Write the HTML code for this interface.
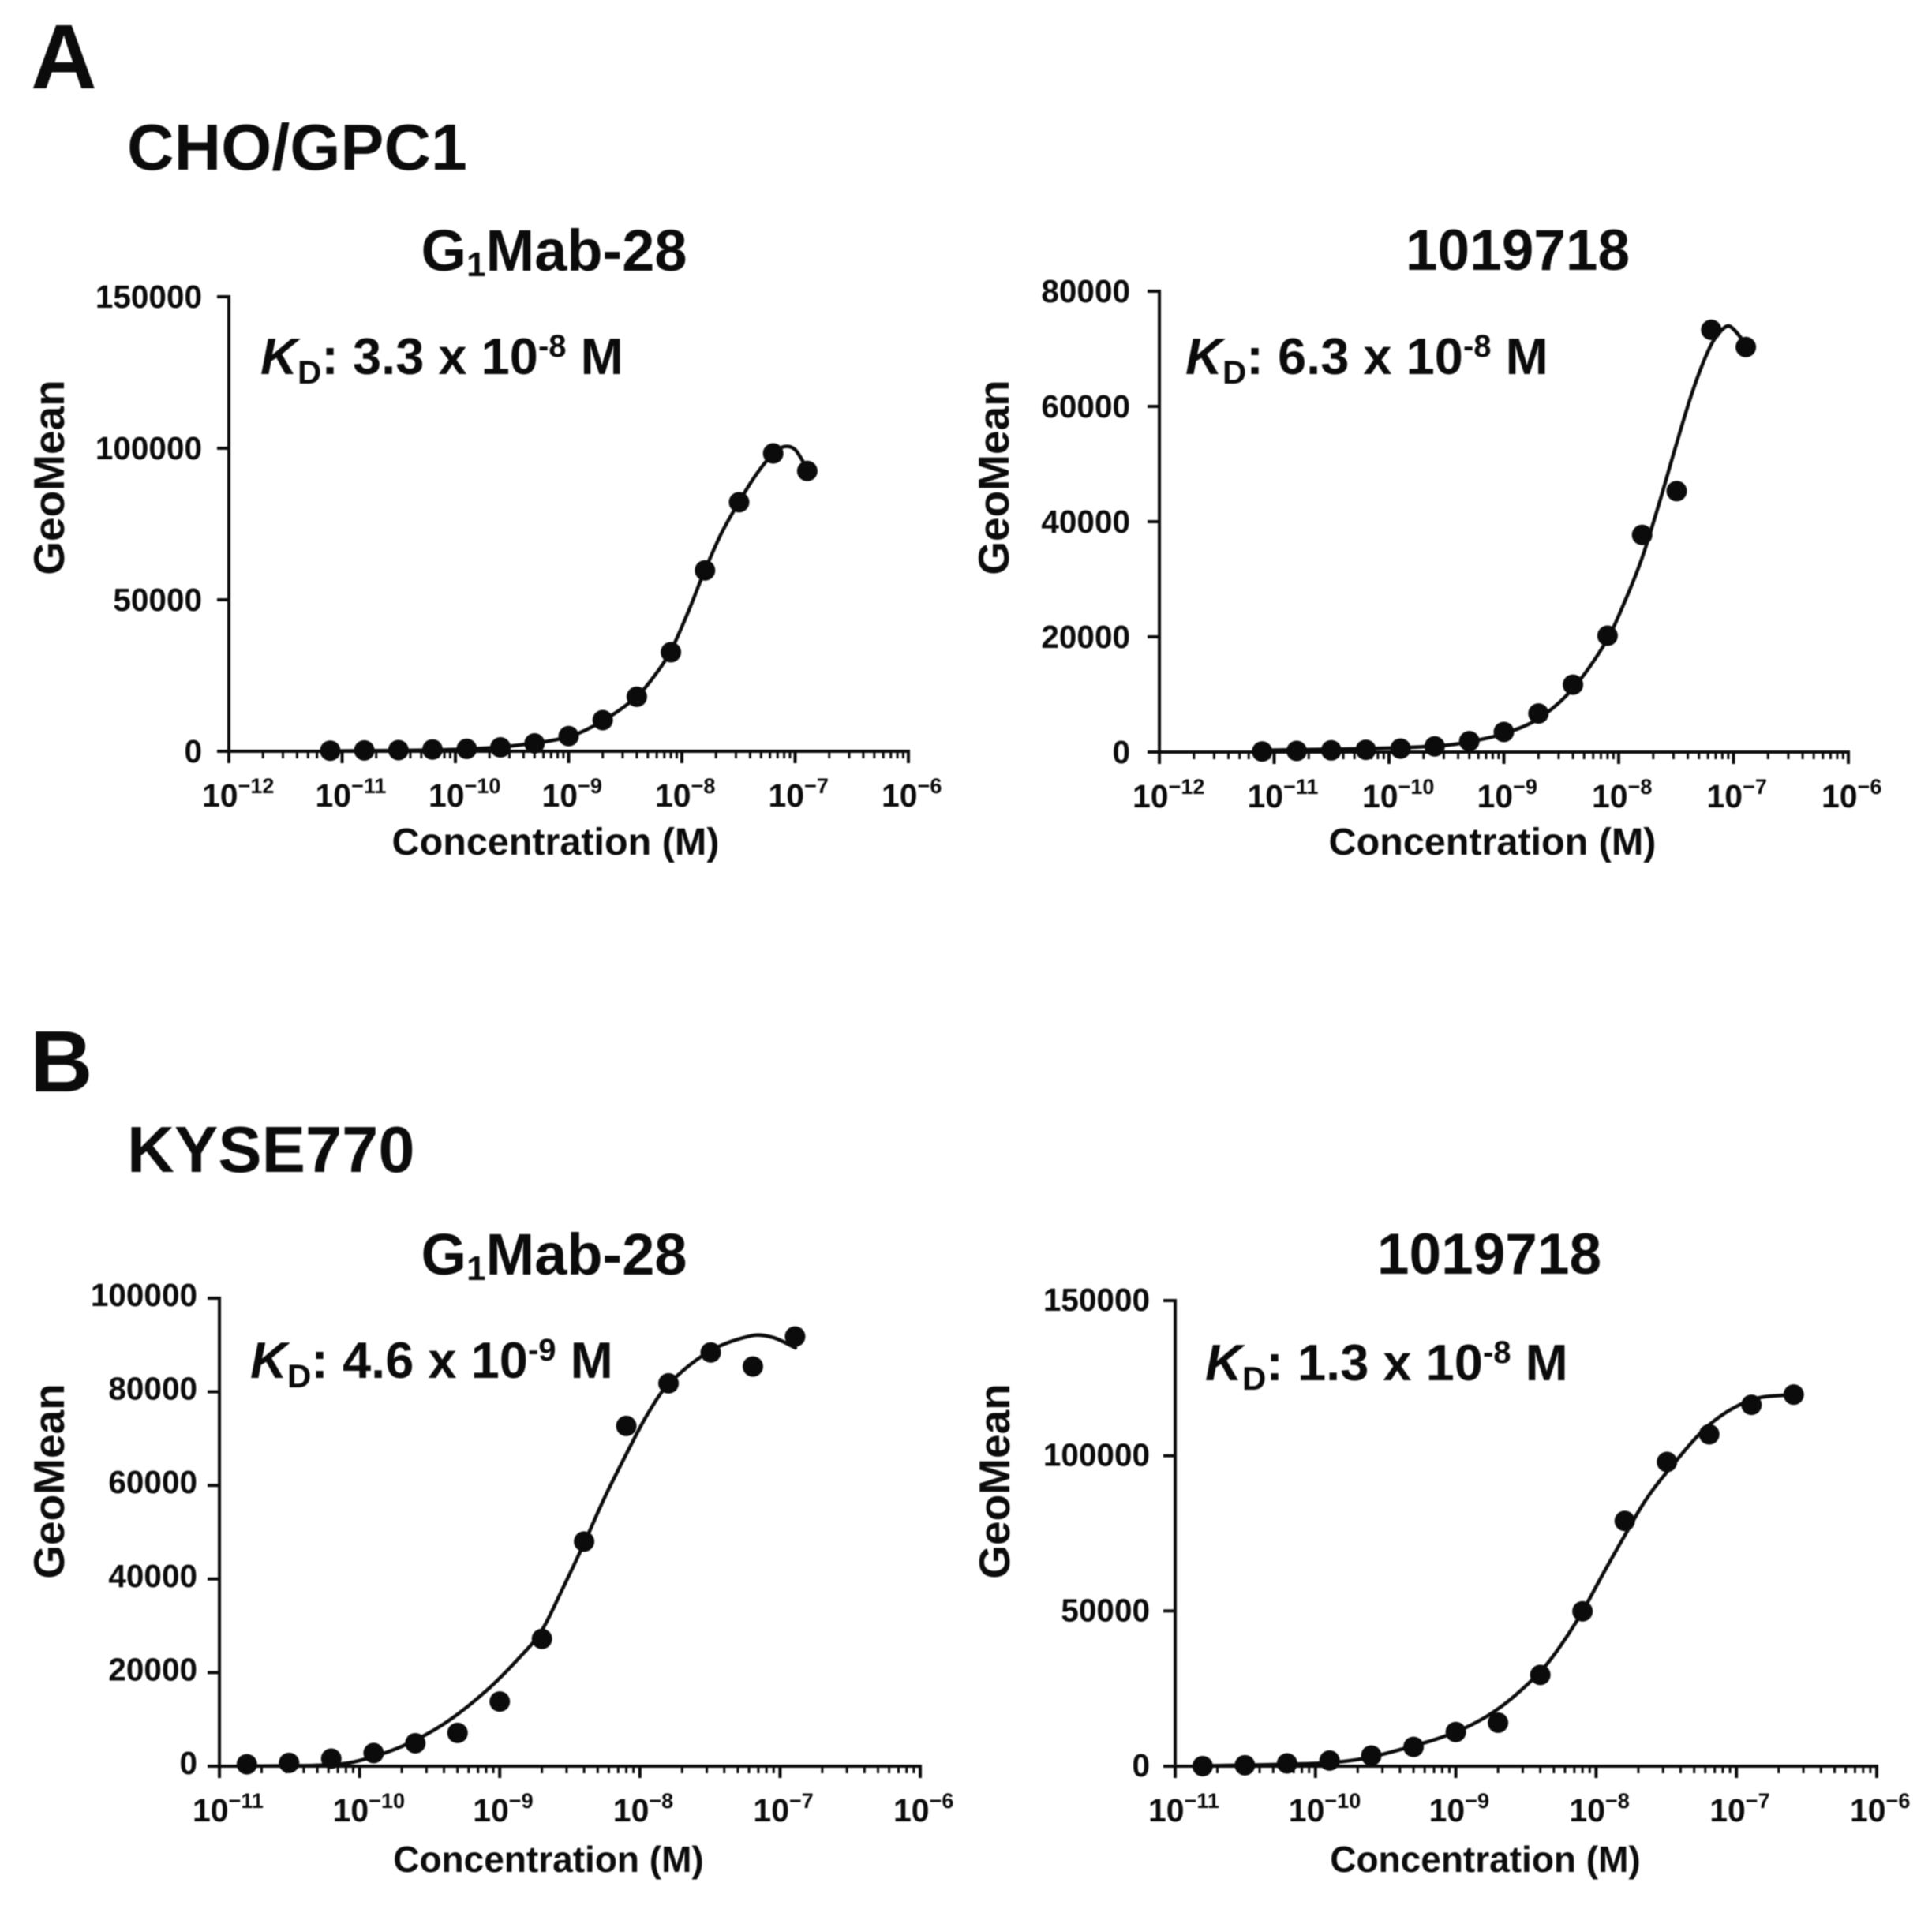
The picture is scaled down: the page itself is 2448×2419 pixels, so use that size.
<!DOCTYPE html>
<html lang="en">
<head>
<meta charset="utf-8">
<title>GeoMean binding curves</title>
<style>
  html, body { margin: 0; padding: 0; background: #fff; }
  svg { display: block; filter: blur(0.9px); }
  text { font-family: "Liberation Sans", Arial, sans-serif; font-weight: bold; fill: #0b0b0b; }
</style>
</head>
<body>
<svg id="figure" xmlns="http://www.w3.org/2000/svg" width="2448" height="2419" viewBox="0 0 2448 2419">
  <rect x="0" y="0" width="2448" height="2419" fill="#fff"/>

  <text x="39" y="112" font-size="116">A</text>
  <text x="161" y="215" font-size="82.5">CHO/GPC1</text>
  <text x="38" y="1383" font-size="110">B</text>
  <text x="161" y="1485" font-size="83">KYSE770</text>

  <text x="702" y="343" font-size="74" text-anchor="middle">G<tspan dy="7" font-size="44">1</tspan><tspan dy="-7">Mab-28</tspan></text>
  <text x="1923" y="342" font-size="73" text-anchor="middle">1019718</text>
  <text x="702" y="1615" font-size="74" text-anchor="middle">G<tspan dy="7" font-size="44">1</tspan><tspan dy="-7">Mab-28</tspan></text>
  <text x="1887" y="1614" font-size="73" text-anchor="middle">1019718</text>

  <text x="330" y="474" font-size="65"><tspan font-style="italic">K</tspan><tspan dy="12" font-size="42">D</tspan><tspan dy="-12">: 3.3 x 10</tspan><tspan dy="-22" font-size="40">-8</tspan><tspan dy="22"> M</tspan></text>
  <text x="1502" y="474" font-size="65"><tspan font-style="italic">K</tspan><tspan dy="12" font-size="42">D</tspan><tspan dy="-12">: 6.3 x 10</tspan><tspan dy="-22" font-size="40">-8</tspan><tspan dy="22"> M</tspan></text>
  <text x="317" y="1746" font-size="65"><tspan font-style="italic">K</tspan><tspan dy="12" font-size="42">D</tspan><tspan dy="-12">: 4.6 x 10</tspan><tspan dy="-22" font-size="40">-9</tspan><tspan dy="22"> M</tspan></text>
  <text x="1527" y="1749" font-size="65"><tspan font-style="italic">K</tspan><tspan dy="12" font-size="42">D</tspan><tspan dy="-12">: 1.3 x 10</tspan><tspan dy="-22" font-size="40">-8</tspan><tspan dy="22"> M</tspan></text>

  <text transform="translate(81 605) rotate(-90)" font-size="55" text-anchor="middle">GeoMean</text>
  <text transform="translate(1278 605) rotate(-90)" font-size="55" text-anchor="middle">GeoMean</text>
  <text transform="translate(81 1877) rotate(-90)" font-size="55" text-anchor="middle">GeoMean</text>
  <text transform="translate(1279 1877) rotate(-90)" font-size="55" text-anchor="middle">GeoMean</text>

  <text x="704" y="1083" font-size="48.5" text-anchor="middle">Concentration (M)</text>
  <text x="1891" y="1083" font-size="48.5" text-anchor="middle">Concentration (M)</text>
  <text x="695" y="2372" font-size="46" text-anchor="middle">Concentration (M)</text>
  <text x="1882" y="2372" font-size="46" text-anchor="middle">Concentration (M)</text>

  <g id="plot-a1"></g>
  <g id="plot-a2"></g>
  <g id="plot-b1"></g>
  <g id="plot-b2"></g>
</svg>

<script>
// ---- Panel A1: CHO/GPC1, G1Mab-28 ----
const a1XExponents = [-12, -11, -10, -9, -8, -7, -6];
const a1YTicks = [0, 50000, 100000, 150000];
const a1Conc = [7.85e-12, 1.57e-11, 3.14e-11, 6.28e-11, 1.26e-10, 2.5e-10, 5e-10, 1e-9, 2e-9, 4e-9, 8e-9, 1.6e-8, 3.2e-8, 6.4e-8, 1.28e-7];
const a1Values = [200, 300, 400, 600, 800, 1300, 2600, 5000, 10300, 18000, 32700, 59700, 82200, 98300, 92500];
const a1CurveLogConc = [-11.1, -10, -9.5, -9, -8.7, -8.4, -8.25, -8.1, -7.95, -7.8, -7.65, -7.5, -7.35, -7.2, -7.1, -7, -6.89];
const a1CurveValues = [100, 600, 1800, 4800, 10000, 18000, 24500, 33000, 45500, 59500, 72000, 82000, 91000, 98000, 100500, 99500, 93000];

// ---- Panel A2: CHO/GPC1, 1019718 ----
const a2XExponents = [-12, -11, -10, -9, -8, -7, -6];
const a2YTicks = [0, 20000, 40000, 60000, 80000];
const a2Conc = [7.85e-12, 1.57e-11, 3.14e-11, 6.28e-11, 1.26e-10, 2.5e-10, 5e-10, 1e-9, 2e-9, 4e-9, 8e-9, 1.6e-8, 3.2e-8, 6.4e-8, 1.28e-7];
const a2Values = [100, 200, 300, 400, 600, 1000, 1900, 3500, 6700, 11700, 20200, 37700, 45300, 73300, 70300];
const a2CurveLogConc = [-11.1, -10, -9.5, -9.3, -9, -8.7, -8.4, -8.1, -7.95, -7.8, -7.65, -7.5, -7.35, -7.2, -7.1, -7.03, -6.89];
const a2CurveValues = [300, 700, 1200, 1800, 3200, 5800, 11000, 19500, 26000, 33500, 43000, 53300, 63000, 70500, 73300, 73900, 70800];

// ---- Panel B1: KYSE770, G1Mab-28 ----
const b1XExponents = [-11, -10, -9, -8, -7, -6];
const b1YTicks = [0, 20000, 40000, 60000, 80000, 100000];
const b1Conc = [1.57e-11, 3.14e-11, 6.28e-11, 1.26e-10, 2.5e-10, 5e-10, 1e-9, 2e-9, 4e-9, 8e-9, 1.6e-8, 3.2e-8, 6.4e-8, 1.28e-7];
const b1Values = [400, 700, 1600, 2800, 4900, 7100, 13800, 27200, 48000, 72700, 81800, 88400, 85400, 91800];
const b1CurveLogConc = [-10.8, -10.2, -10, -9.7, -9.4, -9.1, -8.85, -8.7, -8.55, -8.4, -8.25, -8.1, -7.95, -7.8, -7.5, -7.2, -7.05, -6.89];
const b1CurveValues = [30, 300, 1200, 4200, 9000, 16000, 23500, 29000, 38000, 47500, 57500, 66500, 75000, 81500, 88700, 92000, 91600, 89400];

// ---- Panel B2: KYSE770, 1019718 ----
const b2XExponents = [-11, -10, -9, -8, -7, -6];
const b2YTicks = [0, 50000, 100000, 150000];
const b2Conc = [1.57e-11, 3.14e-11, 6.28e-11, 1.26e-10, 2.5e-10, 5e-10, 1e-9, 2e-9, 4e-9, 8e-9, 1.6e-8, 3.2e-8, 6.4e-8, 1.28e-7, 2.56e-7];
const b2Values = [0, 300, 900, 1800, 3400, 6200, 11000, 14000, 29400, 49900, 79000, 98000, 106900, 116400, 119700];
const b2CurveLogConc = [-10.8, -10, -9.7, -9.4, -9, -8.7, -8.4, -8.25, -8.1, -7.95, -7.8, -7.65, -7.5, -7.2, -6.9, -6.59];
const b2CurveValues = [100, 900, 2100, 5300, 11000, 18400, 30300, 39000, 49600, 62000, 74000, 85500, 94500, 109700, 117900, 119800];

const SVG_NS = 'http://www.w3.org/2000/svg';

function make(tag, attrs, parent) {
  const el = document.createElementNS(SVG_NS, tag);
  for (const k in attrs) el.setAttribute(k, attrs[k]);
  parent.appendChild(el);
  return el;
}

function smoothPath(pts) {
  let d = 'M' + pts[0][0].toFixed(1) + ' ' + pts[0][1].toFixed(1);
  for (let i = 0; i < pts.length - 1; i++) {
    const p0 = pts[Math.max(i - 1, 0)], p1 = pts[i], p2 = pts[i + 1], p3 = pts[Math.min(i + 2, pts.length - 1)];
    const h = p2[0] - p1[0];
    const m1 = (p2[1] - p0[1]) / Math.max(p2[0] - p0[0], 1);
    const m2 = (p3[1] - p1[1]) / Math.max(p3[0] - p1[0], 1);
    d += 'C' + (p1[0] + h / 3).toFixed(1) + ' ' + (p1[1] + m1 * h / 3).toFixed(1) + ' ' + (p2[0] - h / 3).toFixed(1) + ' ' + (p2[1] - m2 * h / 3).toFixed(1) + ' ' + p2[0].toFixed(1) + ' ' + p2[1].toFixed(1);
  }
  return d;
}

function drawPlot(cfg) {
  const g = document.getElementById(cfg.id);
  const exps = cfg.exponents;
  const minExp = exps[0], maxExp = exps[exps.length - 1];
  const yMax = cfg.yTicks[cfg.yTicks.length - 1];
  const xOfLog = function (lg) { return cfg.left + (lg - minExp) / (maxExp - minExp) * (cfg.right - cfg.left); };
  const yOf = function (v) { return cfg.bottom - v / yMax * (cfg.bottom - cfg.top); };

  // axes
  const yAxis = make('line', { x1: cfg.left, x2: cfg.left, y1: cfg.top - 2, y2: cfg.bottom + 2, stroke: '#0b0b0b', 'stroke-width': 4 }, g);
  
  
  const xAxis = make('line', { x1: cfg.left - 15, x2: cfg.right + 2, y1: cfg.bottom, y2: cfg.bottom, stroke: '#0b0b0b', 'stroke-width': 4 }, g);
  
  

  // y ticks and labels
  cfg.yTicks.forEach(function (v) {
    const y = yOf(v);
    const tick = make('line', { x1: cfg.left - 15, x2: cfg.left, y1: y, y2: y, stroke: '#0b0b0b', 'stroke-width': 4 }, g);
    
    
    const label = make('text', { x: cfg.labelRight, y: y + cfg.labelDy, 'font-size': 40.5, 'text-anchor': 'end' }, g);
    
    
    label.textContent = String(v);
  });

  // x ticks and labels
  exps.forEach(function (e, i) {
    const x = xOfLog(e);
    const tick = make('line', { x1: x, x2: x, y1: cfg.bottom, y2: cfg.bottom + 15, stroke: '#0b0b0b', 'stroke-width': 4 }, g);
    
    
    if (i < exps.length - 1) {
      for (let m = 2; m <= 9; m++) {
        const mx = xOfLog(e + Math.log10(m));
        const minor = make('line', { x1: mx, x2: mx, y1: cfg.bottom, y2: cfg.bottom + 9, stroke: '#0b0b0b', 'stroke-width': 3 }, g);
        
        
      }
    }
    const label = make('text', { x: x - 34, y: cfg.bottom + 70, 'font-size': 41 }, g);
    
    
    label.appendChild(document.createTextNode('10'));
    const sup = make('tspan', { dy: -17, 'font-size': 27 }, label);
    sup.textContent = '\u2212' + Math.abs(e);
  });

  // fitted curve
  const curvePts = cfg.curveLog.map(function (lg, i) { return [xOfLog(lg), yOf(cfg.curveVals[i])]; });
  const curve = make('path', { d: smoothPath(curvePts), fill: 'none', stroke: '#0b0b0b', 'stroke-width': 4.5, 'stroke-linecap': 'round' }, g);
  
  

  // data points
  cfg.conc.forEach(function (c, i) {
    const pt = make('circle', { cx: xOfLog(Math.log10(c)), cy: yOf(cfg.values[i]), r: 13, fill: '#0b0b0b' }, g);
    
    
  });
}

drawPlot({ id: 'plot-a1', left: 290, right: 1151, top: 376, bottom: 952, labelRight: 256, labelDy: 14,
  exponents: a1XExponents, yTicks: a1YTicks, conc: a1Conc, values: a1Values, curveLog: a1CurveLogConc, curveVals: a1CurveValues });
drawPlot({ id: 'plot-a2', left: 1469, right: 2342, top: 369, bottom: 953, labelRight: 1432, labelDy: 14,
  exponents: a2XExponents, yTicks: a2YTicks, conc: a2Conc, values: a2Values, curveLog: a2CurveLogConc, curveVals: a2CurveValues });
drawPlot({ id: 'plot-b1', left: 278, right: 1166, top: 1645, bottom: 2238, labelRight: 250, labelDy: 10,
  exponents: b1XExponents, yTicks: b1YTicks, conc: b1Conc, values: b1Values, curveLog: b1CurveLogConc, curveVals: b1CurveValues });
drawPlot({ id: 'plot-b2', left: 1489, right: 2378, top: 1648, bottom: 2238, labelRight: 1457, labelDy: 13,
  exponents: b2XExponents, yTicks: b2YTicks, conc: b2Conc, values: b2Values, curveLog: b2CurveLogConc, curveVals: b2CurveValues });
</script>
</body>
</html>
